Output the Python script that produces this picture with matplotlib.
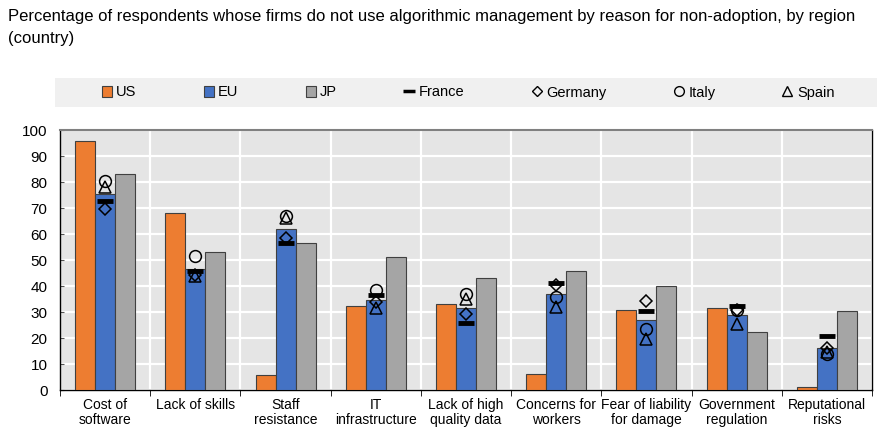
import matplotlib
matplotlib.use("Agg")
import matplotlib.pyplot as plt
import numpy as np
from matplotlib.lines import Line2D
from matplotlib.patches import Patch, Rectangle

plt.rcParams["font.family"] = ["Liberation Sans", "DejaVu Sans"]

# data
categories = ["Cost of\nsoftware", "Lack of skills", "Staff\nresistance", "IT\ninfrastructure",
              "Lack of high\nquality data", "Concerns for\nworkers", "Fear of liability\nfor damage",
              "Government\nregulation", "Reputational\nrisks"]
us = [95.6, 68.0, 5.9, 32.5, 33.2, 6.2, 30.6, 31.5, 1.0]
eu = [75.3, 46.6, 62.1, 34.7, 31.7, 36.8, 26.8, 29.0, 16.2]
jp = [83.0, 52.9, 56.7, 51.3, 42.9, 45.8, 39.9, 22.5, 30.5]
france = [72.7, 45.8, 56.6, 36.4, 25.9, 41.0, 30.4, 32.5, 20.8]
germany = [69.7, 44.1, 58.3, 33.8, 29.3, 40.3, 34.1, 30.6, 16.3]
italy = [80.4, 51.5, 66.8, 38.3, 37.0, 35.6, 23.3, 30.6, 14.0]
spain = [78.2, 44.0, 66.3, 31.7, 35.1, 31.8, 19.7, 25.5, 14.5]

title = ("Percentage of respondents whose firms do not use algorithmic management by reason for non-adoption, by region\n"
         "(country)")

c_us, c_eu, c_jp = "#ED7D31", "#4472C4", "#A5A5A5"
edge = "#404040"

W, H = 890, 441
fig = plt.figure(figsize=(W / 100, H / 100), dpi=100)
ax = fig.add_axes([60 / W, 1 - 390 / H, 812 / W, 260 / H])

x = np.arange(len(categories))
bw = 0.222
ax.bar(x - bw, us, bw, color=c_us, edgecolor=edge, linewidth=0.8, zorder=3)
ax.bar(x, eu, bw, color=c_eu, edgecolor=edge, linewidth=0.8, zorder=3)
ax.bar(x + bw, jp, bw, color=c_jp, edgecolor=edge, linewidth=0.8, zorder=3)

mk = dict(linestyle="none", zorder=5)
ax.plot(x, france, marker="_", markersize=11, markeredgewidth=3.5, color="black", **mk)
ax.plot(x, germany, marker="D", markersize=6.5, markerfacecolor="none",
        markeredgecolor="black", markeredgewidth=1.1, **mk)
ax.plot(x, italy, marker="o", markersize=8.5, markerfacecolor="none",
        markeredgecolor="black", markeredgewidth=1.1, **mk)
ax.plot(x, spain, marker="^", markersize=8.5, markerfacecolor="none",
        markeredgecolor="black", markeredgewidth=1.1, **mk)

ax.set_facecolor("#E5E5E5")
ax.set_xlim(-0.5, len(categories) - 0.5)
ax.set_ylim(0, 100)
ax.set_yticks(range(0, 101, 10))
ax.set_xticks(x)
ax.set_xticklabels(categories, fontsize=10, linespacing=1.1)
ax.set_xticks(np.arange(len(categories) + 1) - 0.5, minor=True)
ax.tick_params(axis="x", which="major", length=0, pad=6)
ax.tick_params(axis="x", which="minor", length=4, direction="out", color="black")
ax.tick_params(axis="y", length=3, direction="in", color="#555555", labelsize=11, pad=9)
ax.grid(axis="y", which="major", color="white", linewidth=1.6, zorder=0)
ax.grid(axis="x", which="minor", color="white", linewidth=1.6, zorder=0)
ax.set_axisbelow(True)
for s in ["left", "bottom", "right"]:
    ax.spines[s].set_color("black")
    ax.spines[s].set_linewidth(1.0)
ax.spines["top"].set_color("#808080")
ax.spines["top"].set_linewidth(1.5)

fig.text(8 / W, 1 - 9 / H, title, ha="left", va="top", fontsize=12, linespacing=1.55)

# legend strip
fig.patches.append(Rectangle((55 / W, 1 - 107 / H), 822 / W, 29 / H,
                             transform=fig.transFigure, facecolor="#F0F0F0",
                             edgecolor="none", zorder=0))
handles = [
    Patch(facecolor=c_us, edgecolor=edge, linewidth=0.8, label="US"),
    Patch(facecolor=c_eu, edgecolor=edge, linewidth=0.8, label="EU"),
    Patch(facecolor=c_jp, edgecolor=edge, linewidth=0.8, label="JP"),
    Line2D([], [], marker="_", markersize=9, markeredgewidth=2.5, color="black", linestyle="none", label="France"),
    Line2D([], [], marker="D", markersize=5.5, markerfacecolor="none", markeredgecolor="black", linestyle="none", label="Germany"),
    Line2D([], [], marker="o", markersize=7, markerfacecolor="none", markeredgecolor="black", linestyle="none", label="Italy"),
    Line2D([], [], marker="^", markersize=7, markerfacecolor="none", markeredgecolor="black", linestyle="none", label="Spain"),
]
fig.legend(handles=handles, loc="center", bbox_to_anchor=(468 / W, 1 - 92.5 / H), ncol=7,
           frameon=False, fontsize=10.5, handlelength=0.7, handleheight=0.7,
           handletextpad=0.3, columnspacing=4.6)

fig.savefig("out.png", dpi=100)
